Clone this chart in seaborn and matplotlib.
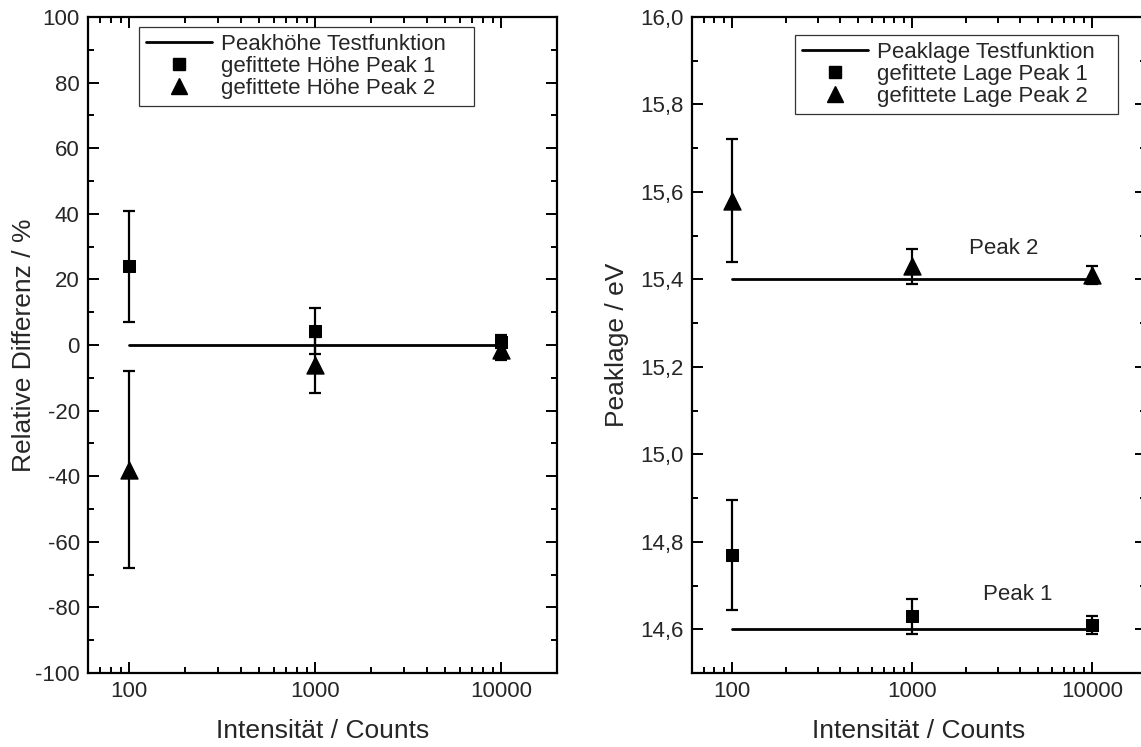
import numpy as np
import pandas as pd
import matplotlib
matplotlib.use("Agg")
import matplotlib.pyplot as plt
import seaborn as sns
from matplotlib.lines import Line2D
from matplotlib.ticker import LogLocator, MultipleLocator, FixedLocator, NullFormatter

# ---------------- data ----------------
counts = [100, 1000, 10000]
ref_x = [100, 10000]

# left panel: relative difference of fitted heights (%)
hoehe_ref = [0, 0]
hoehe_p1 = [24, 4.4, 1.0]
hoehe_p1_err = [17, 7, 2]
hoehe_p2 = [-38, -6, -1.5]
hoehe_p2_err = [30, 8.5, 3]

# right panel: fitted peak positions (eV)
lage_ref1 = [14.6, 14.6]
lage_ref2 = [15.4, 15.4]
lage_p1 = [14.77, 14.63, 14.61]
lage_p1_err = [0.125, 0.04, 0.02]
lage_p2 = [15.58, 15.43, 15.41]
lage_p2_err = [0.14, 0.04, 0.02]

left_ticks = [-100, -80, -60, -40, -20, 0, 20, 40, 60, 80, 100]
right_ticks = [14.6, 14.8, 15.0, 15.2, 15.4, 15.6, 15.8, 16.0]
x_ticks = [100, 1000, 10000]

# ---------------- style ----------------
sns.set_theme(style="ticks")
plt.rcParams["font.family"] = ["Liberation Sans", "DejaVu Sans"]
plt.rcParams["axes.linewidth"] = 1.6
plt.rcParams["xtick.direction"] = "in"
plt.rcParams["ytick.direction"] = "in"

W, H = 1141, 747
fig = plt.figure(figsize=(W / 100, H / 100), dpi=100)
axL = fig.add_axes([88 / W, 1 - 673 / H, (557 - 88) / W, (673 - 17) / H])
axR = fig.add_axes([692 / W, 1 - 673 / H, (1146 - 692) / W, (673 - 17) / H])

TFS = 16   # tick labels
LFS = 19   # axis labels
GFS = 16   # legend / annotations
sq_size = 85
tri_size = 150


def style_axes(ax):
    ax.set_xscale("log")
    ax.set_xlim(60, 20000)
    ax.xaxis.set_major_locator(FixedLocator(x_ticks))
    ax.set_xticklabels([str(t) for t in x_ticks])
    ax.xaxis.set_minor_locator(LogLocator(base=10, subs=np.arange(2, 10)))
    ax.xaxis.set_minor_formatter(NullFormatter())
    ax.tick_params(which="both", top=True, right=True, color="black", width=1.4)
    ax.tick_params(which="major", length=8, labelsize=TFS, pad=6)
    ax.tick_params(which="minor", length=4)
    ax.set_xlabel("Intensität / Counts", fontsize=LFS, labelpad=12)
    for s in ax.spines.values():
        s.set_color("black")


def add_legend(ax, labels, x0, width_frac, top):
    handles = [
        Line2D([], [], color="black", lw=2),
        Line2D([], [], color="black", marker="s", ls="none", markersize=9),
        Line2D([], [], color="black", marker="^", ls="none", markersize=11),
    ]
    leg = ax.legend(handles, labels, loc="upper left",
                    bbox_to_anchor=(x0, top - 0.2, width_frac, 0.2), mode="expand",
                    borderaxespad=0, fontsize=GFS, frameon=True, fancybox=False,
                    edgecolor="black", handlelength=3.0, handletextpad=0.4,
                    labelspacing=0.05, borderpad=0.3)
    leg.get_frame().set_linewidth(0.9)
    return leg


# ---------------- left panel ----------------
ref_df = pd.DataFrame({"x": ref_x, "y": hoehe_ref})
sns.lineplot(data=ref_df, x="x", y="y", ax=axL, color="black", lw=2, legend=False)
axL.errorbar(counts, hoehe_p1, yerr=hoehe_p1_err, fmt="none", ecolor="black",
             elinewidth=1.6, capsize=4.5, capthick=1.6, zorder=3)
axL.errorbar(counts, hoehe_p2, yerr=hoehe_p2_err, fmt="none", ecolor="black",
             elinewidth=1.6, capsize=4.5, capthick=1.6, zorder=3)
sns.scatterplot(x=counts, y=hoehe_p1, ax=axL, marker="s", s=sq_size, color="black",
                edgecolor="black", zorder=4, legend=False)
sns.scatterplot(x=counts, y=hoehe_p2, ax=axL, marker="^", s=tri_size, color="black",
                edgecolor="black", zorder=4, legend=False)
style_axes(axL)
axL.set_ylim(-100, 100)
axL.yaxis.set_major_locator(FixedLocator(left_ticks))
axL.set_yticklabels([str(t) for t in left_ticks])
axL.yaxis.set_minor_locator(MultipleLocator(10))
axL.set_ylabel("Relative Differenz / %", fontsize=LFS, labelpad=-1)
add_legend(axL, ["Peakhöhe Testfunktion", "gefittete Höhe Peak 1",
                 "gefittete Höhe Peak 2"],
           (139 - 88) / 469, (474 - 139) / 469, (673 - 27) / 656)

# ---------------- right panel ----------------
ref1_df = pd.DataFrame({"x": ref_x, "y": lage_ref1})
ref2_df = pd.DataFrame({"x": ref_x, "y": lage_ref2})
sns.lineplot(data=ref1_df, x="x", y="y", ax=axR, color="black", lw=2, legend=False)
sns.lineplot(data=ref2_df, x="x", y="y", ax=axR, color="black", lw=2, legend=False)
axR.errorbar(counts, lage_p1, yerr=lage_p1_err, fmt="none", ecolor="black",
             elinewidth=1.6, capsize=4.5, capthick=1.6, zorder=3)
axR.errorbar(counts, lage_p2, yerr=lage_p2_err, fmt="none", ecolor="black",
             elinewidth=1.6, capsize=4.5, capthick=1.6, zorder=3)
sns.scatterplot(x=counts, y=lage_p1, ax=axR, marker="s", s=sq_size, color="black",
                edgecolor="black", zorder=4, legend=False)
sns.scatterplot(x=counts, y=lage_p2, ax=axR, marker="^", s=tri_size, color="black",
                edgecolor="black", zorder=4, legend=False)
style_axes(axR)
axR.set_ylim(14.5, 16.0)
axR.yaxis.set_major_locator(FixedLocator(right_ticks))
axR.set_yticklabels([f"{t:.1f}".replace(".", ",") for t in right_ticks])
axR.yaxis.set_minor_locator(MultipleLocator(0.1))
axR.set_ylabel("Peaklage / eV", fontsize=LFS, labelpad=8)
axR.text(3250, 15.471, "Peak 2", fontsize=GFS, ha="center", va="center")
axR.text(3880, 14.68, "Peak 1", fontsize=GFS, ha="center", va="center")
add_legend(axR, ["Peaklage Testfunktion", "gefittete Lage Peak 1",
                 "gefittete Lage Peak 2"],
           (795 - 692) / 454, (1118 - 795) / 454, (673 - 35) / 656)

fig.savefig("out.png", dpi=100)
